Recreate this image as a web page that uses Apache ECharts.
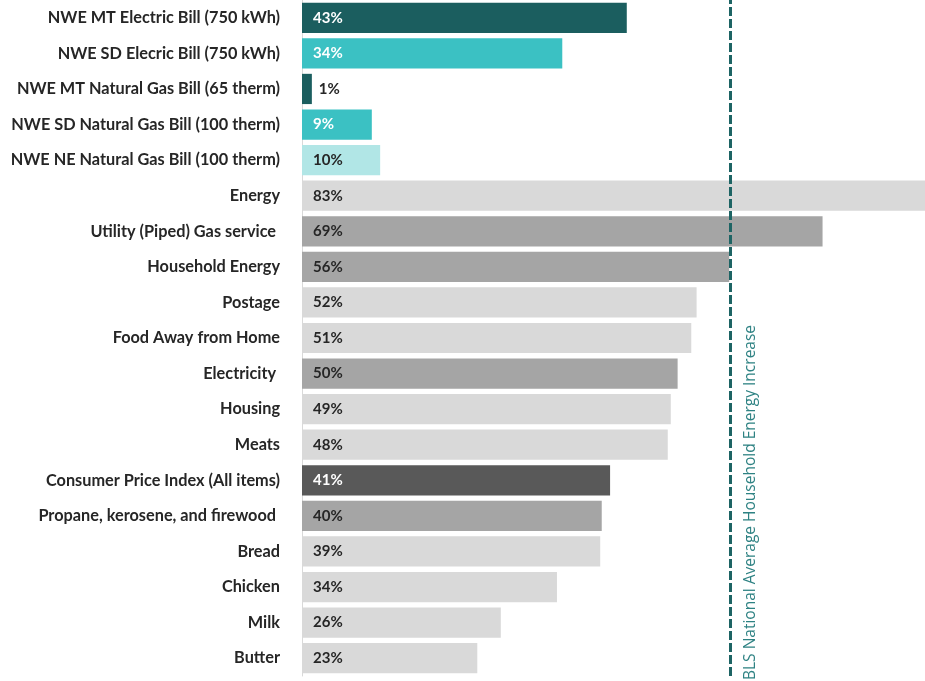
<!DOCTYPE html>
<html>
<head>
<meta charset="utf-8">
<script src="https://cdn.jsdelivr.net/npm/echarts@6/dist/echarts.min.js"></script>
<style>
html,body{margin:0;padding:0;background:#fff;}
#chart{width:925px;height:681px;}
</style>
</head>
<body>
<div id="chart"></div>
<script>
// listed top to bottom as in the chart
const categories = [
  "NWE MT Electric Bill (750 kWh)",
  "NWE SD Elecric Bill (750 kWh)",
  "NWE MT Natural Gas Bill (65 therm)",
  "NWE SD Natural Gas Bill (100 therm)",
  "NWE NE Natural Gas Bill (100 therm)",
  "Energy",
  "Utility (Piped) Gas service ",
  "Household Energy",
  "Postage",
  "Food Away from Home",
  "Electricity ",
  "Housing",
  "Meats",
  "Consumer Price Index (All items)",
  "Propane, kerosene, and firewood ",
  "Bread",
  "Chicken",
  "Milk",
  "Butter"
];
const values = [42.8, 34.3, 1.3, 9.2, 10.3, 83.0, 68.6, 56.3, 52.0, 51.3, 49.5, 48.6, 48.2, 40.6, 39.5, 39.3, 33.6, 26.2, 23.1];
// colour group per bar
const groups = ["mt","sd","mt","sd","ne","light","mid","mid","light","light","mid","light","light","dark","mid","light","light","light","light"];
const blsAverage = 56.5;
const blsLabel = "BLS National Average Household Energy Increase";

const groupColor = {mt:"#1b5e5f", sd:"#3bc1c3", ne:"#b1e6e6", light:"#d9d9d9", mid:"#a5a5a5", dark:"#595959"};
const groupText = {mt:"#ffffff", sd:"#ffffff", ne:"#262626", light:"#262626", mid:"#262626", dark:"#ffffff"};

const data = values.map((v, i) => {
  const g = groups[i];
  const small = v < 5;
  return {
    value: v,
    itemStyle: {color: groupColor[g]},
    label: {
      position: small ? "right" : "insideLeft",
      distance: small ? 7 : 11,
      color: small ? "#262626" : groupText[g]
    }
  };
});
// category axis runs bottom to top
const catsBottomUp = categories.slice().reverse();
const dataBottomUp = data.slice().reverse();

const chart = echarts.init(document.getElementById("chart"), null, {renderer: "canvas"});
chart.setOption({
  animation: false,
  grid: {left: 302, right: 0, top: 0, bottom: 5, containLabel: false},
  xAxis: {
    type: "value", min: 0, max: 82.1,
    show: false
  },
  yAxis: {
    type: "category",
    data: catsBottomUp,
    axisLine: {show: true, lineStyle: {color: "#d9d9d9", width: 1}},
    axisTick: {show: false},
    axisLabel: {
      margin: 22,
      fontFamily: "Lato",
      fontWeight: "bold",
      fontSize: 16.3,
      color: "#262626"
    }
  },
  series: [{
    type: "bar",
    data: dataBottomUp,
    barCategoryGap: "15%",
    label: {
      show: true,
      fontFamily: "Lato",
      fontWeight: "bold",
      fontSize: 15,
      formatter: p => Math.round(p.value) + "%"
    },
    markLine: {
      silent: true,
      symbol: "none",
      lineStyle: {color: "#1d6464", width: 3, type: [9, 3]},
      label: {
        show: true,
        position: "insideStartBottom",
        formatter: blsLabel,
        color: "#2e8283",
        fontFamily: "Open Sans",
        fontSize: 15.5,
        distance: [-4, 12]
      },
      data: [{xAxis: blsAverage}]
    }
  }]
});
</script>
</body>
</html>
